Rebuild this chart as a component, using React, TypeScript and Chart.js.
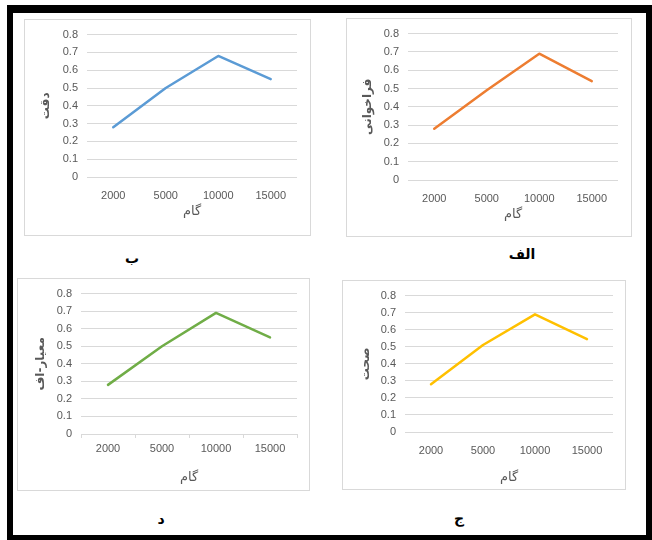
import React, { useEffect, useRef } from "react";
import { Chart, registerables } from "chart.js";
Chart.register(...registerables);

// ---- data ----
const categories = ["2000", "5000", "10000", "15000"];
const accuracy = [0.28, 0.5, 0.68, 0.55]; // ب - دقت
const recall = [0.28, 0.49, 0.69, 0.54]; // الف - فراخوانی
const fMeasure = [0.28, 0.5, 0.69, 0.55]; // د - معیار-اف
const precision = [0.28, 0.51, 0.69, 0.545]; // ج - صحت
const yMin = 0;
const yMax = 0.8;
const yStep = 0.1;
const xTitle = "گام";

type Panel = {
  data: number[];
  color: string;
  yTitle: string;
  caption: string;
  box: { l: number; t: number; w: number; h: number };
  yW: number;
  padT: number;
  padR: number;
  xH: number;
  xTitlePadB: number;
  yTitlePadT: number;
  tickMarks: boolean;
  cap: { x: number; y: number };
};

const panels: Panel[] = [
  {
    data: accuracy, color: "#5B9BD5", yTitle: "دقت", caption: "ب",
    box: { l: 24, t: 19, w: 287, h: 217 }, yW: 63, padT: 14, padR: 14, xH: 59,
    xTitlePadB: 17, yTitlePadT: 15, tickMarks: false, cap: { x: 132, y: 258 },
  },
  {
    data: recall, color: "#ED7D31", yTitle: "فراخوانی", caption: "الف",
    box: { l: 346, t: 18, w: 286, h: 219 }, yW: 62, padT: 15, padR: 14, xH: 57,
    xTitlePadB: 15, yTitlePadT: 15, tickMarks: false, cap: { x: 522, y: 254 },
  },
  {
    data: fMeasure, color: "#70AD47", yTitle: "معیار-اف", caption: "د",
    box: { l: 17, t: 278, w: 293, h: 213 }, yW: 64, padT: 13, padR: 13, xH: 57,
    xTitlePadB: 6, yTitlePadT: 17, tickMarks: true, cap: { x: 161, y: 519 },
  },
  {
    data: precision, color: "#FFC000", yTitle: "صحت", caption: "ج",
    box: { l: 342, t: 280, w: 284, h: 210 }, yW: 63, padT: 13, padR: 13, xH: 58,
    xTitlePadB: 5, yTitlePadT: 17, tickMarks: false, cap: { x: 459, y: 518 },
  },
];

const tickFont = { family: "'Liberation Sans', Arial, sans-serif", size: 11 };
const titleFont = { family: "'DejaVu Sans', sans-serif", size: 13 };
const gray = "#595959";
const gridColor = "#D9D9D9";

function ChartPanel({ p }: { p: Panel }) {
  const ref = useRef<HTMLCanvasElement | null>(null);
  useEffect(() => {
    if (!ref.current) return;
    const chart = new Chart(ref.current, {
      type: "line",
      data: {
        labels: categories,
        datasets: [
          {
            data: p.data,
            borderColor: p.color,
            backgroundColor: p.color,
            borderWidth: 2.5,
            pointRadius: 0,
            tension: 0,
            borderJoinStyle: "round",
            borderCapStyle: "round",
          },
        ],
      },
      options: {
        animation: false,
        responsive: false,
        devicePixelRatio: 1,
        layout: { padding: { left: 0, top: p.padT, right: p.padR, bottom: 0 } },
        plugins: { legend: { display: false }, tooltip: { enabled: false } },
        scales: {
          x: {
            type: "category",
            offset: true,
            grid: {
              display: p.tickMarks,
              drawOnChartArea: false,
              offset: true,
              tickLength: 4,
              color: gridColor,
            },
            border: { display: p.tickMarks, color: gridColor },
            ticks: {
              color: gray,
              font: tickFont,
              padding: p.tickMarks ? 4 : 8,
              maxRotation: 0,
              autoSkip: false,
            },
            title: {
              display: true,
              text: xTitle,
              color: gray,
              font: titleFont,
              padding: { top: 0, bottom: p.xTitlePadB },
            },
            afterFit: (s: any) => {
              s.height = p.xH;
            },
          },
          y: {
            min: yMin,
            max: yMax,
            ticks: { stepSize: yStep, color: gray, font: tickFont, padding: 9 },
            grid: { color: gridColor, drawTicks: false },
            border: { display: false },
            title: {
              display: true,
              text: p.yTitle,
              color: gray,
              font: { ...titleFont, size: 12, weight: "bold" },
              padding: { top: p.yTitlePadT, bottom: 0 },
            },
            afterFit: (s: any) => {
              s.width = p.yW;
            },
          },
        },
      } as any,
    });
    return () => chart.destroy();
  }, [p]);

  const { l, t, w, h } = p.box;
  return (
    <>
      <div
        style={{
          position: "absolute",
          left: l,
          top: t,
          width: w,
          height: h,
          border: "1px solid #D9D9D9",
          boxSizing: "border-box",
        }}
      />
      <canvas
        ref={ref}
        width={w}
        height={h}
        style={{ position: "absolute", left: l, top: t, width: w, height: h }}
      />
      <div
        style={{
          position: "absolute",
          left: p.cap.x - 40,
          top: p.cap.y - 10,
          width: 80,
          height: 20,
          lineHeight: "20px",
          textAlign: "center",
          fontFamily: "'DejaVu Sans', sans-serif",
          fontWeight: "bold",
          fontSize: 14,
          color: "#000",
        }}
      >
        {p.caption}
      </div>
    </>
  );
}

export default function App() {
  return (
    <div
      style={{
        position: "absolute",
        left: 0,
        top: 0,
        width: 652,
        height: 540,
        background: "#fff",
        overflow: "hidden",
      }}
    >
      <div
        style={{
          position: "absolute",
          left: 7,
          top: 5,
          width: 645,
          height: 535,
          boxSizing: "border-box",
          borderStyle: "solid",
          borderColor: "#000",
          borderWidth: "8px 6px 5px 6px",
        }}
      />
      {panels.map((p, i) => (
        <ChartPanel key={i} p={p} />
      ))}
    </div>
  );
}
